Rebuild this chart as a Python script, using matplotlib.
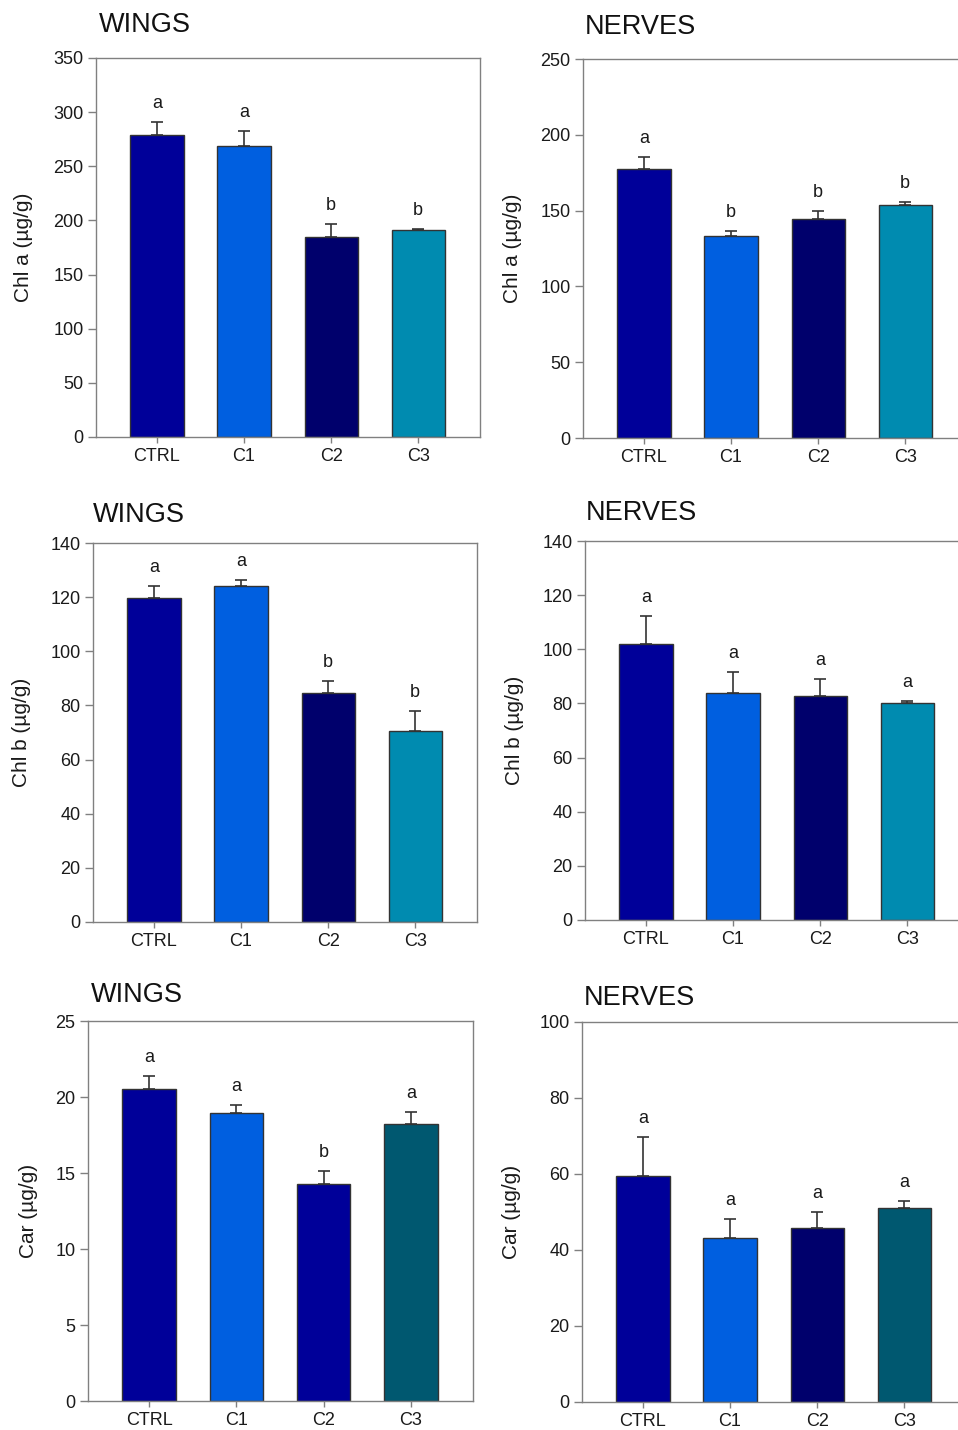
import matplotlib
matplotlib.use("Agg")
import matplotlib.pyplot as plt

plt.rcParams['font.family'] = ['Liberation Sans', 'DejaVu Sans']

categories = ["CTRL", "C1", "C2", "C3"]

# Panel data (means, upper SE, significance letters)
wings_chla = [279, 269, 185, 191]
wings_chla_err = [12, 14, 12, 1]
wings_chla_sig = ["a", "a", "b", "b"]

nerves_chla = [177.5, 133, 144.5, 153.5]
nerves_chla_err = [8, 3.5, 5, 2.5]
nerves_chla_sig = ["a", "b", "b", "b"]

wings_chlb = [119.5, 124, 84.5, 70.4]
wings_chlb_err = [4.8, 2.3, 4.7, 7.5]
wings_chlb_sig = ["a", "a", "b", "b"]

nerves_chlb = [101.8, 83.9, 82.9, 80.0]
nerves_chlb_err = [10.5, 7.6, 6.1, 0.9]
nerves_chlb_sig = ["a", "a", "a", "a"]

wings_car = [20.5, 18.93, 14.26, 18.2]
wings_car_err = [0.9, 0.57, 0.86, 0.8]
wings_car_sig = ["a", "a", "b", "a"]

nerves_car = [59.4, 43.2, 45.8, 51.0]
nerves_car_err = [10.3, 4.9, 4.1, 1.8]
nerves_car_sig = ["a", "a", "a", "a"]

col_ctrl = "#000099"
col_c1 = "#005FE0"
col_c2 = "#00006C"
col_c3 = "#008BB0"
col_c3b = "#005870"

W, H = 958, 1430
fig = plt.figure(figsize=(W / 100, H / 100), dpi=100)

panels = [
    dict(box=(96, 480, 58, 437), title="WINGS", tpos=(99, 25), vals=wings_chla, err=wings_chla_err,
         sig=wings_chla_sig, ylim=350, step=50, ylabel="Chl a (µg/g)",
         colors=[col_ctrl, col_c1, col_c2, col_c3], lx=33),
    dict(box=(583, 967, 59, 438), title="NERVES", tpos=(585, 27), vals=nerves_chla, err=nerves_chla_err,
         sig=nerves_chla_sig, ylim=250, step=50, ylabel="Chl a (µg/g)",
         colors=[col_ctrl, col_c1, col_c2, col_c3], lx=522),
    dict(box=(93, 477, 543, 922), title="WINGS", tpos=(93, 515), vals=wings_chlb, err=wings_chlb_err,
         sig=wings_chlb_sig, ylim=140, step=20, ylabel="Chl b (µg/g)",
         colors=[col_ctrl, col_c1, col_c2, col_c3], lx=31),
    dict(box=(585, 969, 541, 920), title="NERVES", tpos=(586, 513), vals=nerves_chlb, err=nerves_chlb_err,
         sig=nerves_chlb_sig, ylim=140, step=20, ylabel="Chl b (µg/g)",
         colors=[col_ctrl, col_c1, col_c2, col_c3], lx=524),
    dict(box=(88, 473, 1021, 1401), title="WINGS", tpos=(91, 995), vals=wings_car, err=wings_car_err,
         sig=wings_car_sig, ylim=25, step=5, ylabel="Car (µg/g)",
         colors=[col_ctrl, col_c1, col_ctrl, col_c3b], lx=38),
    dict(box=(582, 966, 1022, 1402), title="NERVES", tpos=(584, 998), vals=nerves_car, err=nerves_car_err,
         sig=nerves_car_sig, ylim=100, step=20, ylabel="Car (µg/g)",
         colors=[col_ctrl, col_c1, col_c2, col_c3b], lx=521),
]

spine_col = "#808080"
text_col = "#1a1a1a"

for p in panels:
    l, r, t, b = p["box"]
    ax = fig.add_axes([l / W, 1 - b / H, (r - l) / W, (b - t) / H])
    x = list(range(len(categories)))
    ax.bar(x, p["vals"], width=0.61, color=p["colors"], edgecolor="#333333", linewidth=1.0, zorder=2)
    lower = [0] * len(p["err"])
    ax.errorbar(x, p["vals"], yerr=[lower, p["err"]], fmt="none", ecolor="#333333",
                elinewidth=1.2, capsize=4.3, capthick=1.2, zorder=1)
    for xi, v, e, s in zip(x, p["vals"], p["err"], p["sig"]):
        ax.annotate(s, (xi, v + e), xytext=(0, 10), textcoords="offset points",
                    ha="center", va="baseline", fontsize=13, color=text_col)
    ax.set_xlim(-0.70, 3.71)
    ax.set_ylim(0, p["ylim"])
    ax.set_yticks(list(range(0, p["ylim"] + 1, p["step"])))
    ax.set_xticks(x)
    ax.set_xticklabels(categories)
    for sp in ax.spines.values():
        sp.set_color(spine_col)
        sp.set_linewidth(1.0)
    ax.tick_params(axis="y", direction="out", length=6, width=1, color=spine_col,
                   labelsize=13, labelcolor=text_col, pad=3)
    ax.tick_params(axis="x", direction="out", length=4, width=1, color=spine_col,
                   labelsize=13, labelcolor=text_col, pad=4)
    ax.set_ylabel(p["ylabel"], fontsize=15, color=text_col)
    ax.yaxis.set_label_coords((p["lx"] - l) / (r - l), 0.5)
    tx, ty = p["tpos"]
    fig.text(tx / W, 1 - ty / H, p["title"], fontsize=19.5, ha="left", va="center", color="#111111")

fig.savefig("out.png", dpi=100)
